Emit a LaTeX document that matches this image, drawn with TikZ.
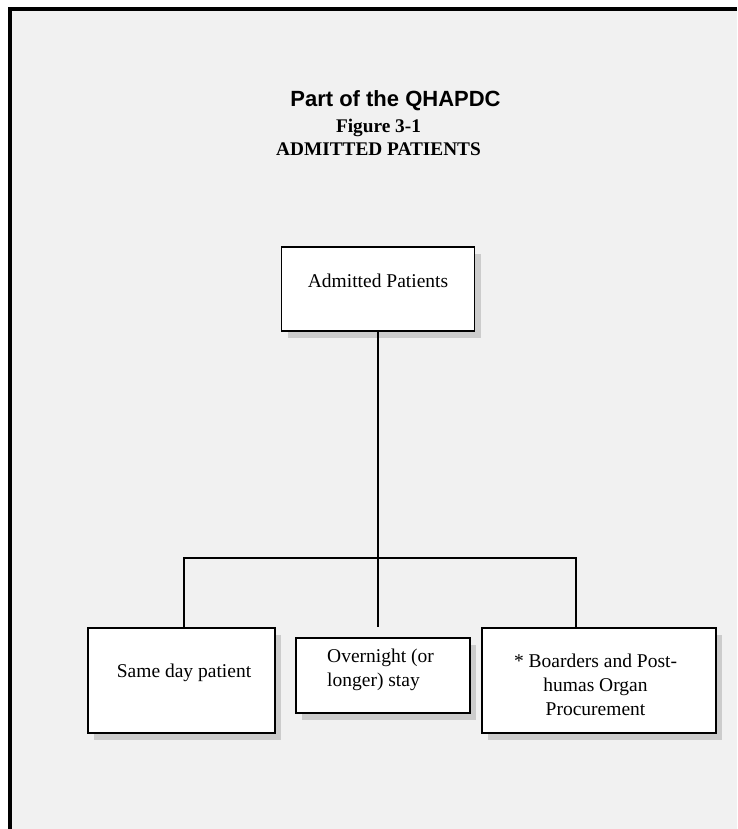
\documentclass[tikz,border=0pt]{standalone}
\usepackage{fontspec}
\setmainfont{Liberation Serif}
\newfontfamily\headfont{Liberation Sans}
\usepackage{tikz}
\usetikzlibrary{shadows}

\definecolor{pagegray}{HTML}{F1F1F1}
\definecolor{shadowgray}{HTML}{CCCCCC}

\begin{document}
\begin{tikzpicture}[x=1pt,y=-1pt,
    main box/.style={rectangle,draw,fill=white,line width=1.6pt,inner sep=0pt,
      drop shadow={shadow xshift=6pt,shadow yshift=-7pt,fill=shadowgray,opacity=1}},
    box text/.style={inner sep=0pt,font=\fontsize{19.5}{24}\selectfont},
    heading/.style={inner sep=0pt,anchor=base,font=\headfont\bfseries\fontsize{22}{26}\selectfont},
    caption/.style={inner sep=0pt,anchor=base,font=\bfseries\fontsize{19.3}{23}\selectfont},
    link/.style={draw,line width=1.8pt,line cap=rect}]
  \useasboundingbox (0,0) rectangle (737,829);
  % page with frame on the top and left
  \fill[white] (0,0) rectangle (737,829);
  \fill[pagegray] (9.5,9.2) rectangle (737,829);
  \draw[line width=4pt] (9.5,829) -- (9.5,9.2) -- (737,9.2);

  % titles
  \node[heading] (qhapdc) at (395.5,107) {Part of the QHAPDC};
  \node[caption] (figno) at (378.5,133) {Figure 3-1};
  \node[caption] (figname) at (378.5,156) {ADMITTED PATIENTS};

  % boxes
  \node[main box,minimum width=193pt,minimum height=84pt] (admitted) at (378,289) {};
  \node[main box,minimum width=187pt,minimum height=105pt] (sameday) at (181.5,680.5) {};
  \node[main box,minimum width=174pt,minimum height=75pt] (stay) at (383,675.5) {};
  \node[main box,minimum width=234pt,minimum height=105pt] (boarders) at (599,680.5) {};

  \node[box text,anchor=base] (admitted text) at (378,287) {Admitted Patients};
  \node[box text,anchor=base] (sameday text) at (184,677) {Same day patient};
  \node[box text,anchor=west,align=left] (stay text) at (327,669.5) {Overnight (or\\longer) stay};
  \node[box text,align=center] (boarders text) at (595.5,685) {* Boarders and Post-\\humas Organ\\Procurement};

  % connectors
  \coordinate (joint) at (378,558);
  \coordinate (left joint) at (184,558);
  \coordinate (right joint) at (576,558);
  \coordinate (stay end) at (378,626);
  \path[link]
    (admitted) edge (joint)
    (joint) edge (stay end)
    (left joint) edge (right joint)
    (left joint) edge (left joint |- sameday.north)
    (right joint) edge (right joint |- boarders.north);
\end{tikzpicture}
\end{document}
